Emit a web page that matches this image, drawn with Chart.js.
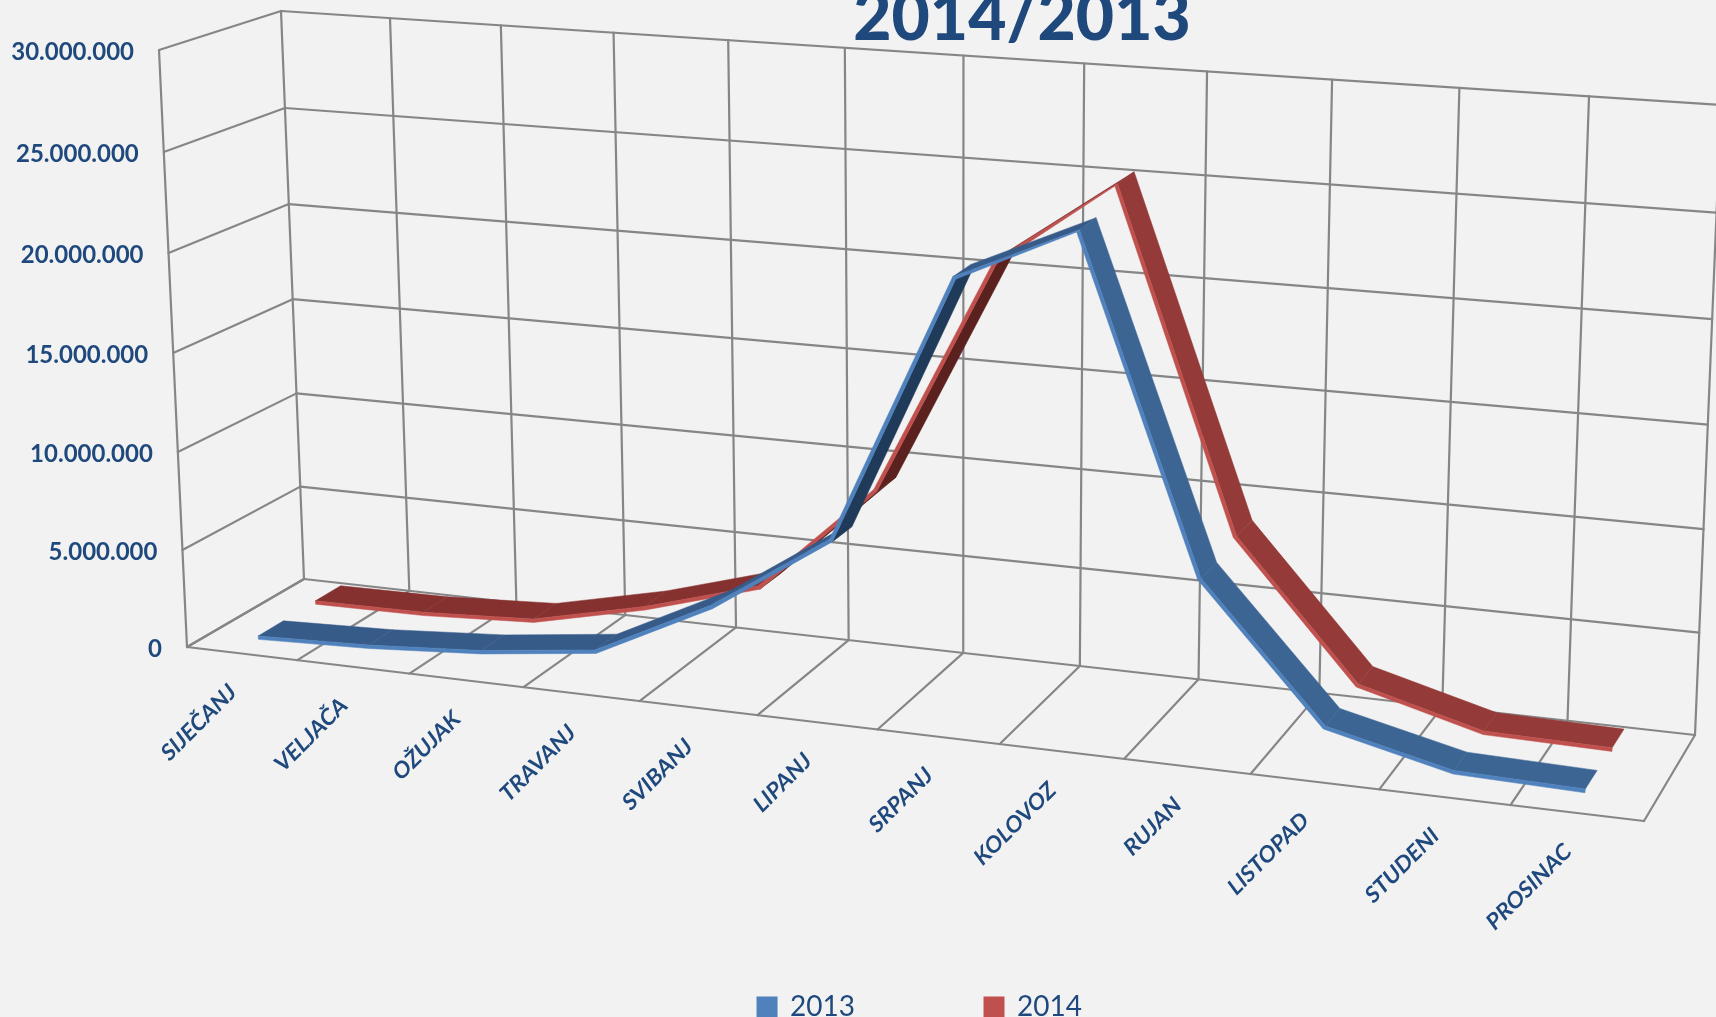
<!DOCTYPE html>
<html>
<head>
<meta charset="utf-8">
<script src="https://cdn.jsdelivr.net/npm/chart.js@4"></script>
<style>
    html, body { margin: 0; padding: 0; background: #f2f2f2; overflow: hidden; }
    canvas { display: block; }
</style>
</head>
<body>
<canvas id="chart" width="1716" height="1017"></canvas>
<script>
const months = ['SIJEČANJ', 'VELJAČA', 'OŽUJAK', 'TRAVANJ', 'SVIBANJ', 'LIPANJ', 'SRPANJ', 'KOLOVOZ', 'RUJAN', 'LISTOPAD', 'STUDENI', 'PROSINAC'];
const values2013 = [400000, 600000, 1000000, 1700000, 4600000, 8500000, 21700000, 24400000, 8500000, 2100000, 700000, 550000];
const values2014 = [450000, 500000, 800000, 2100000, 3800000, 9300000, 21100000, 25300000, 8800000, 2200000, 600000, 500000];

// ------------------ Box corners, as seen on the page ------------------
const floorFrontLeft = [187, 647], floorFrontRight = [1644, 821];
const floorBackLeft = [304, 579], floorBackRight = [1695, 735];
const topFrontLeft = [159, 50], topFrontRight = [1677, 160];
const topBackLeft = [281, 11], topBackRight = [1721, 105];

const gridColor = '#868686';
const textColor = '#1f497d';

const ribbons = [
    { index: 1, near: 0.645, far: 0.865, side: '#c0504d', top: '#943a38', flat: '#85312f', under: '#5a211f' },
    { index: 0, near: 0.145, far: 0.365, side: '#4f81bd', top: '#3c6594', flat: '#365b88', under: '#203a5a' }
];
const ribbonThickness = 3.6;
const pixelsU = 1457, pixelsV = 600;

function warp(t, a) {
    return t / (a + (1 - a) * t);
}

function mix(a, b, t) {
    return [a[0] + (b[0] - a[0]) * t, a[1] + (b[1] - a[1]) * t];
}

// u along the months, v up the values, w from front to back (all 0..1)
function project(u, v, w) {
    const uu = warp(u, 1.11), vv = warp(v, 1.03);
    const bottom = mix(mix(floorFrontLeft, floorFrontRight, uu), mix(floorBackLeft, floorBackRight, uu), w);
    const top = mix(mix(topFrontLeft, topFrontRight, uu), mix(topBackLeft, topBackRight, uu), w);
    return mix(bottom, top, vv);
}

function segment(ctx, a, b) {
    ctx.beginPath();
    ctx.moveTo(a[0], a[1]);
    ctx.lineTo(b[0], b[1]);
    ctx.stroke();
}

function quad(ctx, pts, color) {
    ctx.fillStyle = color;
    ctx.strokeStyle = color;
    ctx.lineWidth = 0.5;
    ctx.beginPath();
    pts.forEach(function(p, i) {
        if (i === 0) ctx.moveTo(p[0], p[1]); else ctx.lineTo(p[0], p[1]);
    });
    ctx.closePath();
    ctx.fill();
    ctx.stroke();
}

// lower edge of the ribbon: each point moved along the normal of its neighbours
function lowerEdge(pts) {
    return pts.map(function(p, i) {
        const prev = pts[Math.max(i - 1, 0)], next = pts[Math.min(i + 1, pts.length - 1)];
        const dx = (next.u - prev.u) * pixelsU, dy = (next.v - prev.v) * pixelsV;
        const len = Math.sqrt(dx * dx + dy * dy);
        return {
            u: p.u + dy / len * ribbonThickness / pixelsU,
            v: p.v - dx / len * ribbonThickness / pixelsV
        };
    });
}

const box3d = {
    id: 'box3d',
    afterLayout: function(chart) {
        // title and legend of the original sit off centre, the title is cut by the top edge
        const title = chart.titleBlock, legend = chart.legend;
        title.left += 164; title.right += 164;
        title.bottom -= title.top + 21; title.top = -21;
        const legendHeight = legend.bottom - legend.top;
        legend.left += 62; legend.right += 62;
        legend.top = 993 - legend.options.labels.padding;
        legend.bottom = legend.top + legendHeight;
    },
    beforeDatasetsDraw: function(chart) {
        const ctx = chart.ctx, area = chart.chartArea;
        const xScale = chart.scales.x, yScale = chart.scales.y;
        const toU = function(px) { return (px - area.left) / area.width; };
        const toV = function(px) { return (area.bottom - px) / area.height; };

        // walls and floor
        ctx.save();
        ctx.strokeStyle = gridColor;
        ctx.lineWidth = 2.2;
        ctx.lineCap = 'round';
        months.forEach(function(m, i) {
            drawCategoryLines(ctx, toU(xScale.getPixelForValue(i - 0.5)));
        });
        drawCategoryLines(ctx, toU(xScale.getPixelForValue(months.length - 0.5)));
        yScale.ticks.forEach(function(tick) {
            const v = toV(yScale.getPixelForValue(tick.value));
            segment(ctx, project(0, v, 0), project(0, v, 1));
            segment(ctx, project(0, v, 1), project(1, v, 1));
        });
        segment(ctx, project(0, 0, 0), project(0, 1, 0));
        segment(ctx, project(0, 0, 0), project(1, 0, 0));
        ctx.restore();

        // ribbons, back series first
        ctx.save();
        ribbons.forEach(function(r) {
            const pts = chart.getDatasetMeta(r.index).data.map(function(p) {
                return { u: toU(p.x), v: toV(p.y) };
            });
            const low = lowerEdge(pts);
            for (let i = 0; i < pts.length - 1; i++) {
                const a = pts[i], b = pts[i + 1], la = low[i], lb = low[i + 1];
                const dirX = project(b.u, b.v, r.near)[0] - project(a.u, a.v, r.near)[0];
                const dirY = project(b.u, b.v, r.near)[1] - project(a.u, a.v, r.near)[1];
                const offX = project(a.u, a.v, r.far)[0] - project(a.u, a.v, r.near)[0];
                const offY = project(a.u, a.v, r.far)[1] - project(a.u, a.v, r.near)[1];
                const underside = dirX * offY - dirY * offX > 0;
                const fa = underside ? la : a, fb = underside ? lb : b;
                const color = underside ? r.under : (b.v > a.v ? r.flat : r.top);
                quad(ctx, [
                    project(fa.u, fa.v, r.near), project(fb.u, fb.v, r.near),
                    project(fb.u, fb.v, r.far), project(fa.u, fa.v, r.far)
                ], color);
                quad(ctx, [
                    project(a.u, a.v, r.near), project(b.u, b.v, r.near),
                    project(lb.u, lb.v, r.near), project(la.u, la.v, r.near)
                ], r.side);
            }
        });
        ctx.restore();

        // tick labels follow the front edges of the box
        ctx.save();
        ctx.fillStyle = textColor;
        ctx.font = 'bold 24px Lato';
        ctx.textAlign = 'right';
        ctx.textBaseline = 'middle';
        yScale.ticks.forEach(function(tick) {
            const p = project(0, toV(yScale.getPixelForValue(tick.value)), 0);
            ctx.fillText(tick.label, p[0] - 25, p[1] + 2);
        });
        ctx.font = 'bold 22px Lato';
        xScale.ticks.forEach(function(tick, i) {
            const p = project(toU(xScale.getPixelForValue(i)), 0, 0);
            ctx.save();
            ctx.translate(p[0] - 9, p[1] + 35);
            ctx.rotate(-45 * Math.PI / 180);
            ctx.transform(1, 0, -0.15, 1, 0, 0);
            ctx.fillText(tick.label, 0, 0);
            ctx.restore();
        });
        ctx.restore();
    }
};

function drawCategoryLines(ctx, u) {
    segment(ctx, project(u, 0, 1), project(u, 1, 1));
    segment(ctx, project(u, 0, 0), project(u, 0, 1));
}

new Chart(document.getElementById('chart').getContext('2d'), {
    type: 'line',
    data: {
        labels: months,
        datasets: [
            { label: '2013', data: values2013, backgroundColor: '#4f81bd', borderColor: '#4f81bd', showLine: false, pointRadius: 0 },
            { label: '2014', data: values2014, backgroundColor: '#c0504d', borderColor: '#c0504d', showLine: false, pointRadius: 0 }
        ]
    },
    options: {
        responsive: false,
        animation: false,
        scales: {
            x: {
                display: false,
                offset: true,
                ticks: { autoSkip: false }
            },
            y: {
                display: false,
                min: 0,
                max: 30000000,
                ticks: {
                    stepSize: 5000000,
                    callback: function(value) {
                        return String(value).replace(/\B(?=(\d{3})+$)/g, '.');
                    }
                }
            }
        },
        plugins: {
            tooltip: { enabled: false },
            title: {
                display: true,
                text: '2014/2013',
                color: textColor,
                font: { family: 'Lato', size: 66, weight: '900' },
                padding: 0
            },
            legend: {
                position: 'bottom',
                labels: {
                    color: textColor,
                    font: { family: 'Lato', size: 28 },
                    boxWidth: 18,
                    boxHeight: 18,
                    padding: 130
                }
            }
        }
    },
    plugins: [box3d]
});
</script>
</body>
</html>
